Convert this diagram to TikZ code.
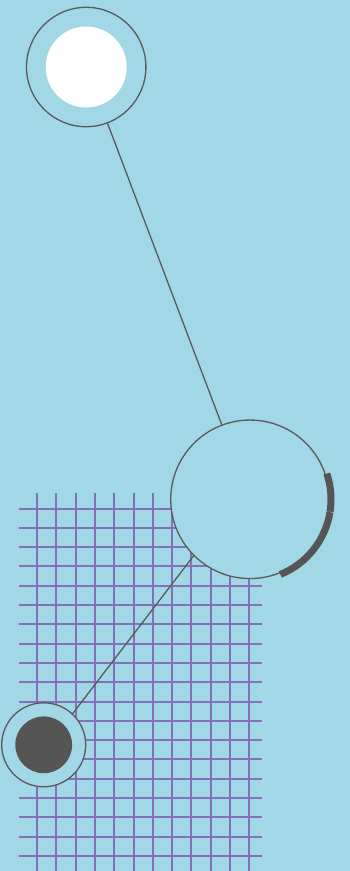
\documentclass[tikz,border=0pt]{standalone}
\usetikzlibrary{calc}
\definecolor{bgblue}{RGB}{162,216,229}
\definecolor{gridpurple}{RGB}{132,112,184}
\definecolor{darkgray}{RGB}{85,85,85}
\definecolor{linegray}{RGB}{90,90,90}
\tikzset{
  gridline/.style={draw=gridpurple, line width=2pt},
  ring/.style={circle, draw=linegray, line width=1.3pt, fill=bgblue, inner sep=0pt, outer sep=0pt},
  dot/.style={circle, inner sep=0pt, outer sep=0pt, draw=none},
  conn/.style={draw=linegray, line width=1.3pt},
  thickarc/.style={draw=darkgray, line width=7pt}
}
\begin{document}
\begin{tikzpicture}[x=1pt,y=-1pt]
\fill[bgblue] (0,0) rectangle (350,871);
\useasboundingbox (0,0) rectangle (350,871);
% grid
\foreach \k in {0,...,11} {
  \draw[gridline] ({37+19.3*\k},493) -- ({37+19.3*\k},871);
}
\foreach \k in {0,...,18} {
  \draw[gridline] (19,{508.5+19.3*\k}) -- (262,{508.5+19.3*\k});
}
% circles
\node[ring, minimum size=119.4pt] (top) at (86.2,67) {};
\node[dot, fill=white, minimum size=81pt] (topin) at (86.2,67) {};
\node[ring, minimum size=158.5pt] (big) at (250,499.3) {};
\node[ring, minimum size=84pt] (small) at (43.7,744.8) {};
\node[dot, fill=darkgray, minimum size=56.8pt] (smallin) at (43.7,744.8) {};
% connectors
\draw[conn] (top) -- (big);
\draw[conn] (small.47.7) -- (big.225.5);
% thick arcs
\draw[thickarc] ([shift={(-18.5:81)}]big.center) arc[start angle=-18.5, end angle=8.8, radius=81];
\draw[thickarc] ([shift={(9.1:81)}]big.center) arc[start angle=9.1, end angle=68, radius=81];
\end{tikzpicture}
\end{document}
